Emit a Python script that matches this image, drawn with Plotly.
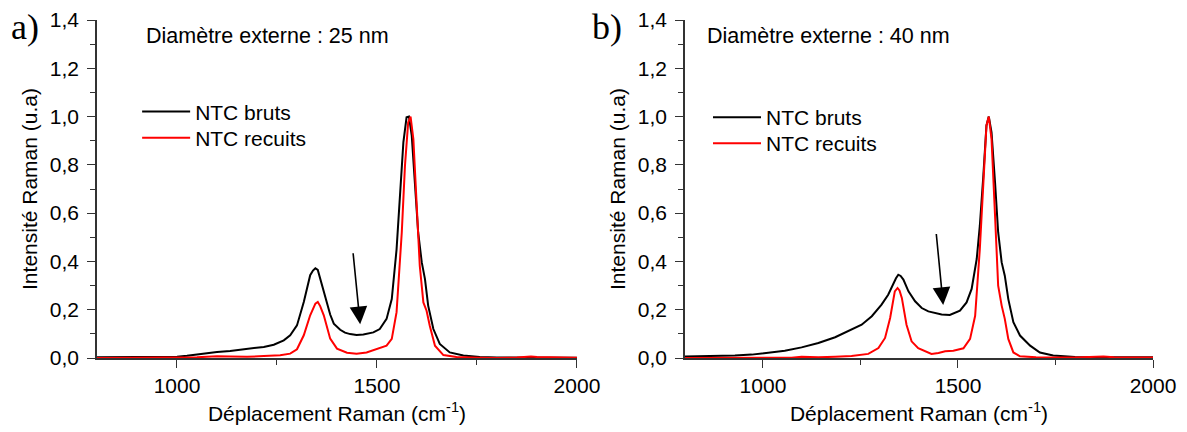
import plotly.graph_objects as go

# ---------------- data ----------------
a_brut_x = [800, 850, 900, 950, 1000, 1025, 1050, 1075, 1100, 1133, 1175, 1217, 1242, 1267, 1283, 1300,
            1317, 1333, 1340, 1346, 1352, 1358, 1366, 1375, 1383, 1392, 1400, 1408, 1420, 1433, 1449,
            1466, 1491, 1507, 1524, 1537, 1549, 1557, 1566, 1574, 1580, 1587, 1595, 1603, 1612, 1620,
            1628, 1641, 1657, 1682, 1716, 1757, 1800, 1850, 1900, 1950, 2000]
a_brut_y = [0.003, 0.003, 0.004, 0.004, 0.005, 0.009, 0.014, 0.022, 0.025, 0.029, 0.036, 0.046, 0.055,
            0.073, 0.094, 0.135, 0.232, 0.343, 0.362, 0.372, 0.365, 0.329, 0.275, 0.218, 0.18, 0.142,
            0.128, 0.117, 0.105, 0.099, 0.095, 0.097, 0.106, 0.12, 0.162, 0.244, 0.45, 0.66, 0.893,
            0.997, 1.0, 0.92, 0.728, 0.52, 0.396, 0.327, 0.217, 0.12, 0.058, 0.023, 0.01, 0.004, 0.002,
            0.001, 0.001, 0.002, 0.001]

a_recuit_x = [800, 900, 1000, 1050, 1075, 1100, 1133, 1175, 1217, 1258, 1283, 1300, 1317, 1333, 1346,
              1352, 1358, 1367, 1383, 1400, 1425, 1449, 1474, 1507, 1524, 1537, 1549, 1562, 1570, 1578,
              1584, 1591, 1599, 1607, 1616, 1624, 1632, 1645, 1666, 1699, 1757, 1800, 1850, 1870, 1885,
              1900, 1950, 2000]
a_recuit_y = [0.0, 0.0, 0.001, 0.003, 0.005, 0.007, 0.006, 0.005, 0.008, 0.011, 0.018, 0.036, 0.094,
              0.177, 0.225, 0.232, 0.215, 0.177, 0.08, 0.039, 0.022, 0.018, 0.023, 0.04, 0.051, 0.079,
              0.19, 0.52, 0.797, 0.976, 1.0, 0.907, 0.659, 0.382, 0.23, 0.196, 0.134, 0.051, 0.012,
              0.004, 0.001, 0.0, 0.002, 0.005, 0.006, 0.004, 0.001, 0.001]

b_brut_x = [800, 850, 885, 928, 971, 1014, 1056, 1099, 1142, 1185, 1227, 1253, 1279, 1304, 1321, 1334,
            1341, 1347, 1353, 1360, 1373, 1390, 1407, 1424, 1441, 1458, 1479, 1505, 1522, 1535, 1548,
            1556, 1565, 1573, 1579, 1586, 1595, 1603, 1612, 1620, 1629, 1642, 1659, 1685, 1710, 1744,
            1800, 1850, 1900, 1950, 2000]
b_brut_y = [0.006, 0.007, 0.007, 0.01, 0.014, 0.021, 0.03, 0.044, 0.062, 0.086, 0.117, 0.138, 0.173,
            0.221, 0.262, 0.31, 0.33, 0.345, 0.34, 0.325, 0.276, 0.235, 0.207, 0.193, 0.186, 0.18,
            0.178, 0.196, 0.23, 0.286, 0.41, 0.548, 0.755, 0.963, 1.0, 0.935, 0.728, 0.521, 0.396,
            0.341, 0.244, 0.148, 0.093, 0.051, 0.023, 0.01, 0.004, 0.003, 0.003, 0.004, 0.003]

b_recuit_x = [800, 900, 1000, 1073, 1099, 1142, 1185, 1227, 1270, 1296, 1313, 1326, 1338, 1345, 1350,
              1356, 1368, 1381, 1398, 1415, 1432, 1450, 1467, 1488, 1514, 1531, 1544, 1556, 1565, 1573,
              1579, 1586, 1595, 1603, 1612, 1620, 1629, 1642, 1659, 1700, 1800, 1873, 1900, 2000]
b_recuit_y = [0.0, 0.0, 0.0, 0.001, 0.005, 0.003, 0.005, 0.008, 0.017, 0.041, 0.083, 0.166, 0.276, 0.29,
              0.28, 0.249, 0.138, 0.069, 0.041, 0.028, 0.017, 0.021, 0.028, 0.03, 0.04, 0.079, 0.175,
              0.452, 0.728, 0.963, 1.0, 0.907, 0.59, 0.3, 0.217, 0.162, 0.079, 0.023, 0.007, 0.003,
              0.002, 0.006, 0.003, 0.002]

series_names = ["NTC bruts", "NTC recuits"]
x_tickvals = [1000, 1500, 2000]
x_ticktext = ["1000", "1500", "2000"]
y_tickvals = [0.0, 0.2, 0.4, 0.6, 0.8, 1.0, 1.2, 1.4]
y_ticktext = ["0,0", "0,2", "0,4", "0,6", "0,8", "1,0", "1,2", "1,4"]
panel_labels = ["a)", "b)"]
panel_titles = ["Diamètre externe : 25 nm", "Diamètre externe : 40 nm"]
x_title = "Déplacement Raman (cm<sup>-1</sup>)"
y_title = "Intensité Raman (u.a)"

# ---------------- figure ----------------
FONT = "Liberation Sans, Arial, sans-serif"
FS = 21
fig = go.Figure()

fig.add_trace(go.Scatter(x=a_brut_x, y=a_brut_y, name=series_names[0], mode="lines",
                         line=dict(color="#000000", width=2), xaxis="x", yaxis="y", legend="legend"))
fig.add_trace(go.Scatter(x=a_recuit_x, y=a_recuit_y, name=series_names[1], mode="lines",
                         line=dict(color="#ff0000", width=2), xaxis="x", yaxis="y", legend="legend3"))
fig.add_trace(go.Scatter(x=b_brut_x, y=b_brut_y, name=series_names[0], mode="lines",
                         line=dict(color="#000000", width=2), xaxis="x2", yaxis="y2", legend="legend2"))
fig.add_trace(go.Scatter(x=b_recuit_x, y=b_recuit_y, name=series_names[1], mode="lines",
                         line=dict(color="#ff0000", width=2), xaxis="x2", yaxis="y2", legend="legend4"))

xaxis_common = dict(range=[800, 2000], tickmode="array", tickvals=x_tickvals, ticktext=x_ticktext,
                    ticks="outside", ticklen=8, tickwidth=1.3, tickcolor="#333", automargin=False,
                    minor=dict(tickmode="linear", tick0=1000, dtick=250, ticks="outside", ticklen=5,
                               tickwidth=1.3, tickcolor="#333"),
                    showline=True, linecolor="#333", linewidth=1.5, showgrid=False, zeroline=False,
                    tickfont=dict(family=FONT, size=FS, color="#000"),
                    title=dict(text=x_title, font=dict(family=FONT, size=FS, color="#000"), standoff=10))
yaxis_common = dict(range=[0, 1.4], tickmode="array", tickvals=y_tickvals, ticktext=y_ticktext,
                    ticks="outside", ticklen=8, tickwidth=1.3, tickcolor="#333", automargin=False,
                    ticklabelstandoff=4,
                    minor=dict(tickmode="linear", tick0=0, dtick=0.1, ticks="outside", ticklen=5,
                               tickwidth=1.3, tickcolor="#333"),
                    showline=True, linecolor="#333", linewidth=1.5, showgrid=False, zeroline=False,
                    tickfont=dict(family=FONT, size=FS, color="#000"),
                    title=dict(text=y_title, font=dict(family=FONT, size=FS, color="#000"), standoff=6))

legend_common = dict(xanchor="left", yanchor="top", bgcolor="rgba(0,0,0,0)",
                     font=dict(family=FONT, size=FS, color="#000"), itemwidth=48, tracegroupgap=0)

fig.update_layout(
    width=1187, height=432,
    margin=dict(l=97, r=34, t=20, b=74, autoexpand=False),
    paper_bgcolor="white", plot_bgcolor="white",
    xaxis=dict(domain=[0, 0.4545], anchor="y", **xaxis_common),
    yaxis=dict(domain=[0, 1], anchor="x", **yaxis_common),
    xaxis2=dict(domain=[0.5568, 1], anchor="y2", **xaxis_common),
    yaxis2=dict(domain=[0, 1], anchor="x2", **yaxis_common),
    legend=dict(x=0.038, y=0.789, **legend_common),
    legend3=dict(x=0.038, y=0.711, **legend_common),
    legend2=dict(x=0.5786, y=0.772, **legend_common),
    legend4=dict(x=0.5786, y=0.695, **legend_common),
    showlegend=True,
)

annotations = [
    dict(text=panel_labels[0], xref="paper", yref="paper", x=-0.083, y=0.98, xanchor="left",
         yanchor="middle", showarrow=False, font=dict(family="Liberation Serif, serif", size=36, color="#000")),
    dict(text=panel_labels[1], xref="paper", yref="paper", x=0.4665, y=0.98, xanchor="left",
         yanchor="middle", showarrow=False, font=dict(family="Liberation Serif, serif", size=36, color="#000")),
    dict(text=panel_titles[0], xref="paper", yref="paper", x=0.0445, y=0.952, xanchor="left",
         yanchor="middle", showarrow=False, font=dict(family=FONT, size=21.5, color="#000")),
    dict(text=panel_titles[1], xref="paper", yref="paper", x=0.5757, y=0.952, xanchor="left",
         yanchor="middle", showarrow=False, font=dict(family=FONT, size=21.5, color="#000")),
    dict(x=1458, y=0.14, xref="x", yref="y", ax=1440, ay=0.44, axref="x", ayref="y", text="",
         showarrow=True, arrowhead=2, arrowsize=2.2, arrowwidth=1.6, arrowcolor="#000"),
    dict(x=1462, y=0.22, xref="x2", yref="y2", ax=1444, ay=0.52, axref="x2", ayref="y2", text="",
         showarrow=True, arrowhead=2, arrowsize=2.2, arrowwidth=1.6, arrowcolor="#000"),
]
fig.update_layout(annotations=annotations)

fig.write_html("out.html", config={"displayModeBar": False},
               post_script="document.body.style.margin='0';")
